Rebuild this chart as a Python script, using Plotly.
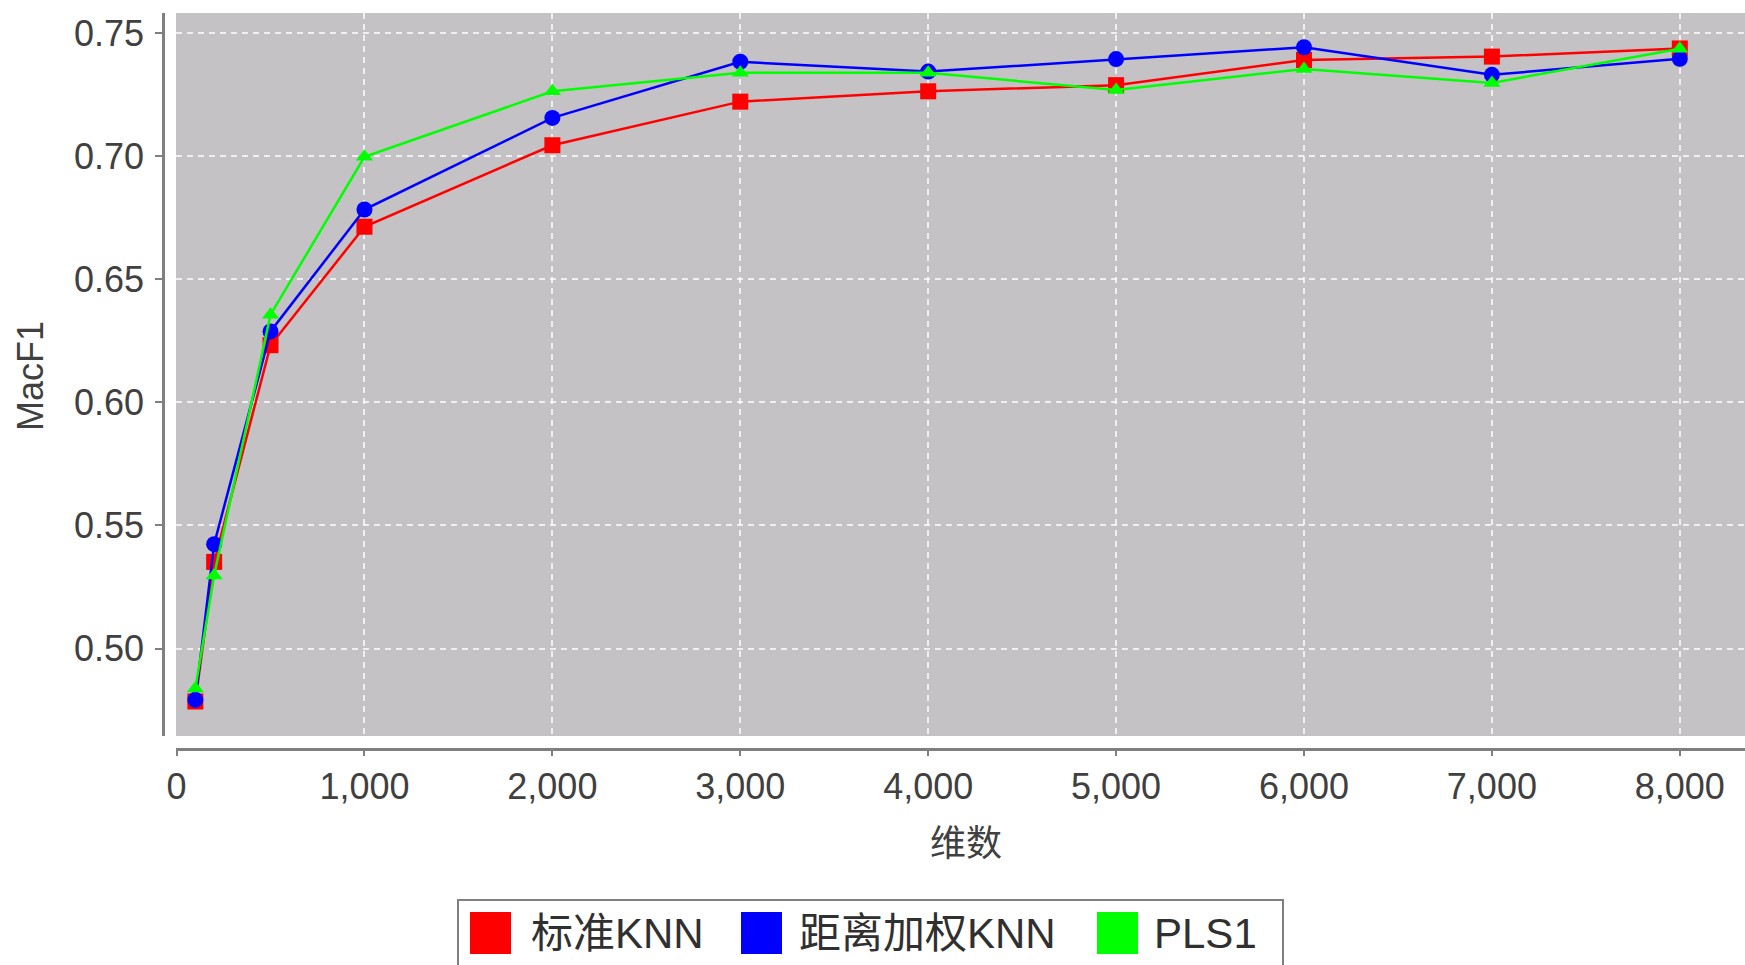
import plotly.graph_objects as go

# ---- data ----
dims = [100, 200, 500, 1000, 2000, 3000, 4000, 5000, 6000, 7000, 8000]
knn_std = [0.4785, 0.5352, 0.6232, 0.6713, 0.7044, 0.7221, 0.7263, 0.7288, 0.7390, 0.7404, 0.7437]
knn_weighted = [0.4792, 0.5424, 0.6288, 0.6783, 0.7155, 0.7383, 0.7343, 0.7394, 0.7442, 0.7330, 0.7395]
pls1 = [0.4838, 0.5297, 0.6356, 0.6997, 0.7263, 0.7338, 0.7338, 0.7268, 0.7354, 0.7297, 0.7436]

series_names = ["标准KNN", "距离加权KNN", "PLS1"]
series_values = [knn_std, knn_weighted, pls1]
series_colors = ["#ff0000", "#0000ff", "#00ff00"]
series_symbols = ["square", "circle", "triangle-up"]
series_sizes = [16, 16, 15]

x_title = "维数"
y_title = "MacF1"

W, H = 1745, 965
ML, MR, MT, MB = 163, 0, 13, 216
PW = W - ML - MR
PH = H - MT - MB

def px_x(px):
    return (px - ML) / PW

def px_y(py):
    return (H - MB - py) / PH

FONT = "Liberation Sans, Arial, Noto Sans CJK SC, sans-serif"
TXT = "#404040"

fig = go.Figure()
for name, vals, col, sym, sz in zip(series_names, series_values, series_colors, series_symbols, series_sizes):
    fig.add_trace(go.Scatter(
        x=dims, y=vals, name=name, mode="lines+markers",
        line=dict(color=col, width=2.5),
        marker=dict(color=col, symbol=sym, size=sz, line=dict(width=0)),
        showlegend=False,
    ))

shapes = []
annotations = []

# legend box (manual, to mimic large square swatches)
shapes.append(dict(type="rect", xref="paper", yref="paper",
                   x0=px_x(458), x1=px_x(1283), y0=px_y(985), y1=px_y(900),
                   line=dict(color="#808080", width=2), fillcolor="white", layer="below"))
sw_left = [470, 741, 1097]
txt_left = [531, 799, 1154]
for name, col, sl, tl in zip(series_names, series_colors, sw_left, txt_left):
    shapes.append(dict(type="rect", xref="paper", yref="paper",
                       x0=px_x(sl), x1=px_x(sl + 41), y0=px_y(954), y1=px_y(912),
                       line=dict(width=0), fillcolor=col))
    annotations.append(dict(text=name, xref="paper", yref="paper",
                            x=px_x(tl - 2), y=px_y(933), xanchor="left", yanchor="middle",
                            showarrow=False, font=dict(size=42, color="#303030", family=FONT)))

annotations.append(dict(text=y_title, xref="paper", yref="paper",
                        x=px_x(30), y=px_y(376), xanchor="center", yanchor="middle",
                        textangle=-90, showarrow=False,
                        font=dict(size=36, color=TXT, family=FONT)))
annotations.append(dict(text=x_title, xref="paper", yref="paper",
                        x=px_x(966), y=px_y(843), xanchor="center", yanchor="middle",
                        showarrow=False,
                        font=dict(size=36, color=TXT, family=FONT)))

grid = dict(showgrid=True, gridcolor="rgba(255,255,255,0.75)", gridwidth=1.5, griddash="6px,5px")

fig.update_layout(
    width=W, height=H,
    margin=dict(l=ML, r=MR, t=MT, b=MB),
    paper_bgcolor="white",
    plot_bgcolor="#c4c2c5",
    font=dict(family=FONT, size=36, color=TXT),
    xaxis=dict(domain=[13 / PW, 1], range=[-3, 8347], anchor="free", position=0,
               tickmode="linear", tick0=0, dtick=1000, tickformat=",d",
               showline=True, linecolor="#808080", linewidth=2.5,
               ticks="outside", ticklen=5, tickwidth=2, tickcolor="#808080",
               ticklabelstandoff=0, zeroline=False,
               tickfont=dict(size=36, color=TXT, family=FONT), **grid),
    yaxis=dict(domain=[13 / PH, 1], range=[0.4645, 0.7581], anchor="free", position=0,
               tickmode="linear", tick0=0.5, dtick=0.05, tickformat=".2f",
               showline=True, linecolor="#808080", linewidth=2.5,
               ticks="outside", ticklen=7, tickwidth=2, tickcolor="#808080",
               ticklabelstandoff=4, zeroline=False,
               tickfont=dict(size=36, color=TXT, family=FONT), **grid),
    shapes=shapes,
    annotations=annotations,
    showlegend=False,
)

fig.write_html(
    "out.html",
    config={"displayModeBar": False},
    post_script="document.body.style.margin='0';document.body.style.overflow='hidden';",
)
